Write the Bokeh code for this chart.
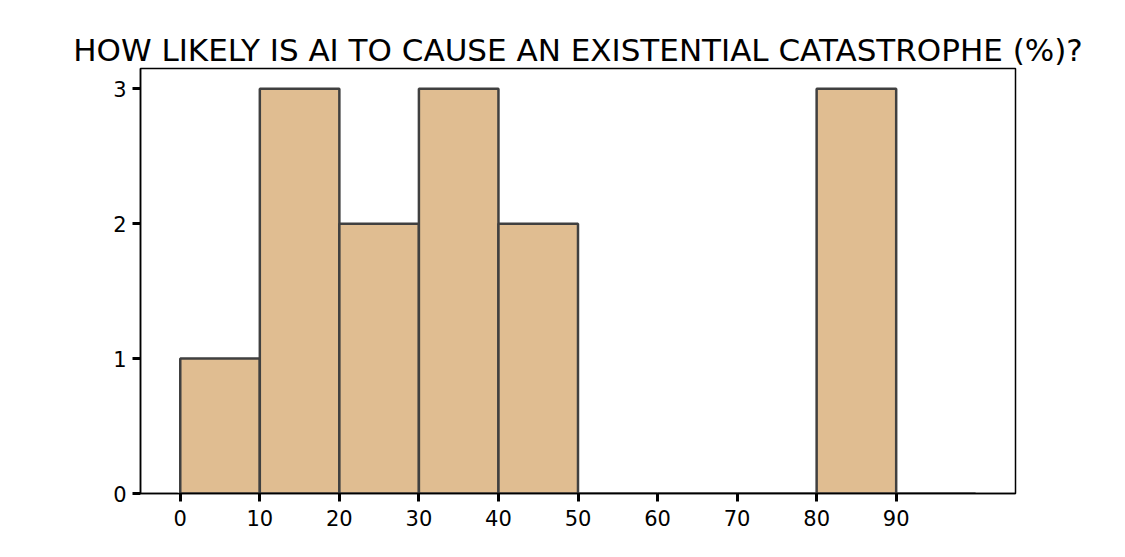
import numpy as np
from bokeh.embed import file_html
from bokeh.resources import INLINE
from bokeh.plotting import figure
from bokeh.models import Range1d, FixedTicker

# histogram of answers, 10 bins of width 10
bin_edges = [0, 10, 20, 30, 40, 50, 60, 70, 80, 90, 100]
counts = [1, 3, 2, 3, 2, 0, 0, 0, 3, 0]
x_ticks = [0, 10, 20, 30, 40, 50, 60, 70, 80, 90]
y_ticks = [0, 1, 2, 3]
title_text = "HOW LIKELY IS AI TO CAUSE AN EXISTENTIAL CATASTROPHE (%)?"

FONT = "DejaVu Sans"

p = figure(width=1100, height=548,
           x_range=Range1d(-5, 105), y_range=Range1d(0, 3.15),
           toolbar_location=None, output_backend="svg",
           min_border_left=140, min_border_right=85,
           min_border_top=68, min_border_bottom=55,
           title=title_text)

p.title.align = "center"
p.title.text_font = FONT
p.title.text_font_size = "31px"
p.title.text_font_style = "normal"
p.title.text_color = "black"
p.title.offset = 0
p.title.standoff = 2

left = np.array(bin_edges[:-1])
right = np.array(bin_edges[1:])
p.quad(left=left, right=right, top=counts, bottom=0,
       fill_color="#e0bd91", line_color="white", line_width=5)
p.quad(left=left, right=right, top=counts, bottom=0,
       fill_color="#e0bd91", line_color="#404040", line_width=2.5)

p.xgrid.visible = False
p.ygrid.visible = False
p.outline_line_color = "black"
p.outline_line_width = 1.5
p.background_fill_color = "white"

p.xaxis.ticker = FixedTicker(ticks=x_ticks)
p.yaxis.ticker = FixedTicker(ticks=y_ticks)
for ax in (p.xaxis, p.yaxis):
    ax.axis_line_color = "black"
    ax.axis_line_width = 1.5
    ax.major_tick_in = 0
    ax.major_tick_out = 8
    ax.major_tick_line_width = 3
    ax.major_tick_line_color = "black"
    ax.minor_tick_line_color = None
    ax.major_label_text_font = FONT
    ax.major_label_text_font_size = "21px"
    ax.major_label_text_color = "black"
p.xaxis.major_label_standoff = 8
p.yaxis.major_label_standoff = 6

open("out.html", "w").write(file_html(p, INLINE))
